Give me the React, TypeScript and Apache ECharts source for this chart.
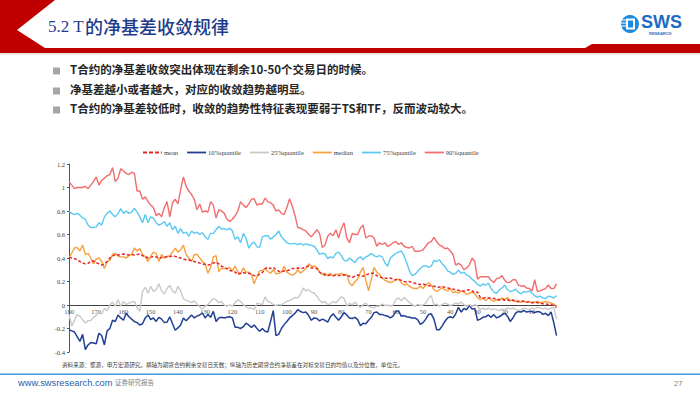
import React, { useEffect, useRef } from "react";
import * as echarts from "echarts";

// Remaining trading days (x categories), 180 down to 1
const days: string[] = [];
for (let d = 180; d >= 1; d--) days.push(String(d));

const seriesNames = ["mean", "10%quantile", "25%quantile", "median", "75%quantile", "90%quantile"];

const p90 = [
  1.05, 1.02, 0.99, 1.0, 1.0, 1.0, 1.01, 0.99, 1.02, 1.05,
  1.09, 1.02, 1.06, 1.08, 1.1, 1.11, 1.17, 1.05, 1.08, 1.16,
  1.14, 1.12, 1.11, 1.13, 1.12, 0.97, 0.97, 0.9, 0.92, 0.88,
  0.85, 0.83, 0.76, 0.78, 0.75, 0.83, 0.88, 0.75, 0.87, 0.9,
  0.86, 0.98, 1.09, 1.01, 0.97, 0.94, 0.9, 0.81, 0.86, 0.79,
  0.8, 0.79, 0.88, 0.85, 0.74, 0.81, 0.8, 0.78, 0.73, 0.71,
  0.73, 0.76, 0.8, 0.88, 0.85, 0.83, 0.86, 0.9, 0.905, 0.85,
  0.86, 0.86, 0.91, 0.88, 0.87, 0.85, 0.8, 0.81, 0.78, 0.77,
  0.83, 0.905, 0.84, 0.76, 0.66, 0.655, 0.64, 0.63, 0.6, 0.58,
  0.61, 0.64, 0.61, 0.49, 0.51, 0.585, 0.61, 0.59, 0.64, 0.57,
  0.65, 0.7, 0.57, 0.53, 0.61, 0.6, 0.6, 0.655, 0.68, 0.57,
  0.585, 0.59, 0.57, 0.5, 0.53, 0.515, 0.53, 0.5, 0.51, 0.53,
  0.54, 0.515, 0.53, 0.5, 0.49, 0.485, 0.5, 0.457, 0.457, 0.46,
  0.47, 0.5, 0.53, 0.54, 0.575, 0.54, 0.51, 0.5, 0.48, 0.485,
  0.46, 0.43, 0.34, 0.355, 0.34, 0.3, 0.315, 0.34, 0.4, 0.37,
  0.22, 0.24, 0.24, 0.24, 0.24, 0.21, 0.19, 0.225, 0.23, 0.25,
  0.21, 0.19, 0.195, 0.215, 0.215, 0.17, 0.16, 0.165, 0.145, 0.14,
  0.12, 0.215, 0.115, 0.12, 0.13, 0.14, 0.17, 0.14, 0.14, 0.18,
];

const p75 = [
  0.8, 0.78, 0.77, 0.78, 0.765, 0.74, 0.73, 0.68, 0.66, 0.66,
  0.665, 0.7, 0.68, 0.75, 0.78, 0.8, 0.77, 0.75, 0.78, 0.82,
  0.78, 0.8, 0.78, 0.79, 0.825, 0.79, 0.75, 0.7, 0.77, 0.7,
  0.75, 0.74, 0.7, 0.68, 0.69, 0.71, 0.67, 0.7, 0.64, 0.67,
  0.61, 0.65, 0.61, 0.62, 0.585, 0.63, 0.61, 0.62, 0.6, 0.615,
  0.58, 0.56, 0.61, 0.61, 0.64, 0.67, 0.645, 0.65, 0.64, 0.655,
  0.63, 0.56, 0.58, 0.53, 0.61, 0.57, 0.485, 0.52, 0.535, 0.495,
  0.49, 0.58, 0.59, 0.59, 0.56, 0.58, 0.6, 0.63, 0.58, 0.555,
  0.53, 0.52, 0.52, 0.525, 0.513, 0.525, 0.51, 0.52, 0.513, 0.51,
  0.5, 0.47, 0.43, 0.44, 0.435, 0.395, 0.41, 0.4, 0.44, 0.45,
  0.42, 0.38, 0.375, 0.4, 0.38, 0.36, 0.395, 0.41, 0.385, 0.41,
  0.42, 0.44, 0.42, 0.41, 0.42, 0.41, 0.36, 0.33, 0.4, 0.42,
  0.44, 0.45, 0.46, 0.42, 0.36, 0.29, 0.25, 0.26, 0.285, 0.31,
  0.33, 0.335, 0.32, 0.33, 0.38, 0.37, 0.385, 0.35, 0.33, 0.29,
  0.28, 0.26, 0.27, 0.295, 0.27, 0.28, 0.255, 0.245, 0.22, 0.2,
  0.175, 0.16, 0.18, 0.17, 0.185, 0.14, 0.11, 0.1, 0.13, 0.145,
  0.17, 0.13, 0.115, 0.12, 0.135, 0.11, 0.095, 0.115, 0.11, 0.12,
  0.1, 0.08, 0.065, 0.075, 0.06, 0.055, 0.075, 0.07, 0.06, 0.08,
];

const median = [
  0.4, 0.44, 0.485, 0.49, 0.46, 0.51, 0.43, 0.44, 0.4, 0.35,
  0.39, 0.4, 0.37, 0.31, 0.37, 0.38, 0.43, 0.44, 0.415, 0.41,
  0.41, 0.4, 0.42, 0.43, 0.485, 0.46, 0.48, 0.43, 0.41, 0.37,
  0.415, 0.45, 0.44, 0.37, 0.43, 0.4, 0.41, 0.42, 0.45, 0.485,
  0.45, 0.47, 0.51, 0.43, 0.4, 0.37, 0.43, 0.43, 0.4, 0.37,
  0.35, 0.27, 0.32, 0.41, 0.42, 0.285, 0.31, 0.31, 0.31, 0.32,
  0.29, 0.33, 0.28, 0.265, 0.315, 0.28, 0.28, 0.26, 0.18, 0.24,
  0.29, 0.295, 0.31, 0.285, 0.27, 0.3, 0.265, 0.27, 0.28, 0.33,
  0.28, 0.265, 0.255, 0.265, 0.3, 0.27, 0.29, 0.31, 0.35, 0.33,
  0.33, 0.32, 0.28, 0.26, 0.27, 0.25, 0.27, 0.245, 0.265, 0.26,
  0.27, 0.25, 0.26, 0.185, 0.165, 0.2, 0.22, 0.28, 0.32, 0.21,
  0.12, 0.22, 0.32, 0.28, 0.26, 0.23, 0.21, 0.2, 0.19, 0.2,
  0.215, 0.22, 0.19, 0.17, 0.18, 0.16, 0.145, 0.14, 0.14, 0.16,
  0.14, 0.17, 0.19, 0.17, 0.13, 0.115, 0.13, 0.145, 0.13, 0.12,
  0.14, 0.105, 0.115, 0.1, 0.12, 0.11, 0.09, 0.1, 0.11, 0.095,
  0.065, 0.045, 0.06, 0.035, 0.06, 0.045, 0.03, 0.045, 0.04, 0.06,
  0.045, 0.065, 0.035, 0.045, 0.03, 0.035, 0.022, 0.035, 0.02, 0.028,
  0.017, 0.025, 0.03, 0.017, 0.025, 0.03, 0.025, 0.017, 0.008, -0.01,
];

const mean = [
  0.405, 0.4, 0.395, 0.385, 0.37, 0.357, 0.35, 0.355, 0.37, 0.375,
  0.36, 0.35, 0.34, 0.35, 0.37, 0.4, 0.415, 0.43, 0.425, 0.43,
  0.434, 0.43, 0.425, 0.43, 0.425, 0.43, 0.434, 0.42, 0.414, 0.4,
  0.405, 0.414, 0.41, 0.395, 0.405, 0.406, 0.414, 0.41, 0.42, 0.414,
  0.405, 0.4, 0.39, 0.386, 0.385, 0.375, 0.37, 0.365, 0.357, 0.35,
  0.345, 0.34, 0.345, 0.357, 0.366, 0.35, 0.33, 0.32, 0.31, 0.293,
  0.29, 0.28, 0.26, 0.27, 0.275, 0.27, 0.27, 0.26, 0.25, 0.248,
  0.262, 0.275, 0.31, 0.322, 0.31, 0.32, 0.3, 0.288, 0.283, 0.29,
  0.29, 0.3, 0.31, 0.31, 0.315, 0.31, 0.315, 0.325, 0.33, 0.315,
  0.315, 0.31, 0.28, 0.265, 0.255, 0.25, 0.255, 0.25, 0.253, 0.25,
  0.252, 0.258, 0.25, 0.245, 0.235, 0.245, 0.255, 0.25, 0.245, 0.255,
  0.265, 0.27, 0.27, 0.25, 0.238, 0.232, 0.23, 0.225, 0.23, 0.22,
  0.215, 0.22, 0.21, 0.2, 0.195, 0.2, 0.19, 0.185, 0.178, 0.175,
  0.18, 0.17, 0.165, 0.16, 0.16, 0.155, 0.152, 0.158, 0.15, 0.145,
  0.14, 0.135, 0.13, 0.125, 0.12, 0.118, 0.125, 0.13, 0.12, 0.105,
  0.11, 0.065, 0.06, 0.062, 0.06, 0.06, 0.055, 0.05, 0.045, 0.05,
  0.04, 0.045, 0.035, 0.04, 0.03, 0.028, 0.035, 0.03, 0.025, 0.03,
  0.02, 0.025, 0.02, 0.015, 0.01, 0.01, 0.005, 0.002, -0.005, -0.02,
];

const p25 = [
  -0.08, -0.18, -0.133, -0.082, -0.096, -0.125, -0.153, -0.133, -0.133, -0.105,
  -0.088, -0.06, -0.077, -0.03, -0.048, 0.0, 0.025, -0.011, 0.045, -0.011,
  0.031, 0.003, 0.017, 0.025, 0.031, -0.02, -0.055, 0.116, 0.15, 0.1,
  0.159, 0.116, 0.13, 0.18, 0.12, 0.094, 0.14, 0.167, 0.12, 0.1,
  0.159, 0.12, 0.054, 0.04, 0.03, 0.02, 0.035, 0.01, -0.015, -0.035,
  -0.01, 0.005, 0.03, 0.055, 0.045, 0.02, 0.03, 0.0, -0.01, 0.0,
  -0.01, 0.02, 0.045, 0.03, 0.003, -0.015, -0.03, -0.025, -0.04, 0.015,
  0.01, 0.003, 0.07, 0.03, 0.02, 0.003, -0.003, 0.003, 0.0, 0.017,
  0.03, 0.04, 0.05, 0.065, 0.06, 0.09, 0.145, 0.12, 0.13, 0.11,
  0.1, 0.075, 0.04, 0.02, 0.03, 0.003, 0.01, 0.03, 0.017, 0.045,
  0.07, 0.055, -0.01, 0.015, 0.0, 0.025, 0.0, -0.02, 0.003, 0.017,
  -0.01, -0.02, -0.025, -0.01, -0.01, 0.008, -0.003, 0.0, -0.01, 0.0,
  0.045, 0.06, 0.035, 0.065, 0.045, 0.02, 0.003, -0.01, 0.005, -0.003,
  0.0, 0.015, 0.06, 0.08, 0.0, 0.008, -0.01, 0.003, 0.017, 0.008,
  -0.003, 0.003, 0.017, 0.008, 0.025, 0.003, -0.011, 0.003, -0.011, 0.003,
  -0.01, -0.04, -0.026, -0.04, -0.026, -0.04, -0.033, -0.04, -0.048, -0.033,
  -0.04, -0.026, -0.033, -0.026, -0.04, -0.048, -0.04, -0.026, -0.033, -0.04,
  -0.026, -0.033, -0.02, -0.026, -0.033, -0.026, -0.04, -0.026, -0.02, -0.12,
];

const p10 = [
  -0.21, -0.22, -0.23, -0.27, -0.31, -0.25, -0.38, -0.34, -0.32, -0.323,
  -0.33, -0.24, -0.26, -0.34, -0.22, -0.2, -0.13, -0.14, -0.085, -0.11,
  -0.13, -0.07, -0.1, -0.12, -0.14, -0.15, -0.17, -0.16, -0.11, -0.085,
  -0.125, -0.11, -0.14, -0.105, -0.12, -0.15, -0.145, -0.1, -0.16, -0.215,
  -0.195, -0.17, -0.11, -0.135, -0.11, -0.085, -0.11, -0.095, -0.085, -0.068,
  -0.11, -0.08, -0.105, -0.054, -0.14, -0.11, -0.105, -0.11, -0.105, -0.1,
  -0.11, -0.19, -0.19, -0.2, -0.185, -0.155, -0.17, -0.19, -0.17, -0.2,
  -0.224, -0.2, -0.224, -0.23, -0.14, -0.048, -0.26, -0.25, -0.2, -0.167,
  -0.14, -0.11, -0.09, -0.07, -0.04, -0.055, -0.065, -0.06, -0.09, -0.13,
  -0.11, -0.115, -0.135, -0.12, -0.13, -0.145, -0.1, -0.075, -0.105, -0.13,
  -0.1, -0.065, -0.085, -0.11, -0.115, -0.105, -0.125, -0.175, -0.155, -0.16,
  -0.13, -0.105, -0.065, -0.06, -0.08, -0.08, -0.09, -0.095, -0.11, -0.095,
  -0.054, -0.05, -0.095, -0.09, -0.1, -0.105, -0.11, -0.11, -0.125, -0.165,
  -0.15, -0.12, -0.08, -0.075, -0.12, -0.21, -0.21, -0.18, -0.14, -0.11,
  -0.1, -0.11, -0.075, -0.02, -0.06, -0.03, -0.04, -0.005, -0.035, -0.03,
  -0.13, -0.12, -0.105, -0.1, -0.085, -0.105, -0.082, -0.11, -0.1, -0.085,
  -0.07, -0.095, -0.14, -0.11, -0.07, -0.055, -0.06, -0.045, -0.06, -0.055,
  -0.055, -0.065, -0.055, -0.06, -0.08, -0.07, -0.09, -0.06, -0.15, -0.26,
];

const bullets = [
  "T合约的净基差收敛突出体现在剩余10-50个交易日的时候。",
  "净基差越小或者越大，对应的收敛趋势越明显。",
  "T合约的净基差较低时，收敛的趋势性特征表现要弱于TS和TF，反而波动较大。",
];

const titleNum = "5.2 T";
const titleCjk = "的净基差收敛规律";
const sourceText = "资料来源：聚源，申万宏源研究。横轴为期货合约剩余交易日天数；纵轴为历史期货合约净基差在对标交易日的均值以及分位数，单位元。";

const colors = {
  mean: "#e5262b",
  p10: "#213f94",
  p25: "#c9c9c9",
  median: "#f8a13e",
  p75: "#5cc9f2",
  p90: "#f16d6e",
};

export default function App() {
  const ref = useRef<HTMLDivElement>(null);
  useEffect(() => {
    if (!ref.current) return;
    const chart = echarts.init(ref.current, null, { renderer: "svg" });
    const serif = '"Liberation Serif", "Times New Roman", serif';
    const cjk = '"Noto Sans CJK SC", "Noto Sans", sans-serif';
    const mk = (name: string, data: number[], color: string, extra: any = {}) => ({
      name,
      type: "line",
      data,
      symbol: "none",
      smooth: false,
      lineStyle: { color, width: 1.4, ...(extra.lineStyle || {}) },
      itemStyle: { color },
      z: extra.z ?? 2,
    });
    const dashIcon = "path://M0,0h4v2h-4z M6,0h4v2h-4z M12,0h4v2h-4z M18,0h1v2h-1z";
    chart.setOption({
      animation: false,
      backgroundColor: "#ffffff",
      grid: { left: 69, right: 143.5, top: 164, bottom: 42, containLabel: false },
      legend: {
        data: seriesNames.map((n) => (n === "mean" ? { name: n, icon: dashIcon } : { name: n, icon: "rect" })),
        left: 138,
        top: 144,
        itemWidth: 19,
        itemHeight: 1.8,
        itemGap: 9,
        symbolKeepAspect: false,
        textStyle: { fontSize: 6.5, fontFamily: serif, color: "#404040", padding: [0, 0, 0, -3] },
      },
      xAxis: {
        type: "category",
        data: days,
        boundaryGap: false,
        offset: -47,
        axisLine: { onZero: false, lineStyle: { color: "#444444", width: 1 } },
        axisTick: { show: false },
        axisLabel: { interval: 9, fontSize: 6.5, fontFamily: serif, color: "#555555", margin: 3 },
        splitLine: { show: false },
      },
      yAxis: {
        type: "value",
        min: -0.4,
        max: 1.2,
        interval: 0.2,
        axisLine: { show: true, onZero: false, lineStyle: { color: "#555555", width: 1 } },
        axisTick: { show: true, length: 2, lineStyle: { color: "#555555" } },
        axisLabel: { fontSize: 6.5, fontFamily: serif, color: "#404040", margin: 4 },
        splitLine: { show: false },
      },
      series: [
        mk("mean", mean, colors.mean, { lineStyle: { type: [3, 2], width: 1.5 }, z: 5 }),
        mk("10%quantile", p10, colors.p10, { lineStyle: { width: 1.5 } }),
        mk("25%quantile", p25, colors.p25),
        mk("median", median, colors.median),
        mk("75%quantile", p75, colors.p75),
        mk("90%quantile", p90, colors.p90),
      ],
      graphic: [
        {
          type: "polygon",
          shape: {
            points: [[0, 0], [55, 0], [17, 30], [45, 48], [585, 48], [592, 44], [700, 44], [700, 53], [0, 53]],
          },
          style: { fill: "#c00000" },
        },
        { type: "rect", shape: { x: 0, y: 53, width: 700, height: 1.5 }, style: { fill: "#e2e2e2" } },
        {
          type: "text",
          left: 48,
          top: 18,
          style: { text: titleNum, font: '17px "Liberation Serif", serif', fill: "#1f3c8c" },
        },
        {
          type: "text",
          left: 85,
          top: 17,
          style: { text: titleCjk, font: `500 18px ${cjk}`, fill: "#1f3c8c" },
        },
        // logo
        { type: "circle", shape: { cx: 630, cy: 24, r: 9 }, style: { fill: "#1c8ade" } },
        { type: "rect", shape: { x: 626, y: 18.5, width: 9, height: 11 }, style: { fill: "#ffffff" } },
        { type: "rect", shape: { x: 628, y: 20.5, width: 5, height: 7 }, style: { fill: "#1c8ade" } },
        { type: "line", shape: { x1: 620, y1: 20, x2: 626, y2: 20 }, style: { stroke: "#ffffff", lineWidth: 1 } },
        { type: "line", shape: { x1: 620, y1: 23, x2: 626, y2: 23 }, style: { stroke: "#ffffff", lineWidth: 1 } },
        { type: "line", shape: { x1: 620, y1: 26, x2: 626, y2: 26 }, style: { stroke: "#ffffff", lineWidth: 1 } },
        {
          type: "text",
          left: 641,
          top: 13,
          style: { text: "SWS", font: 'bold 18px "Liberation Sans", Arial, sans-serif', fill: "#1d6cc4" },
        },
        {
          type: "text",
          left: 649,
          top: 31,
          style: { text: "RESEARCH", font: 'bold 4px "Liberation Sans", Arial, sans-serif', fill: "#1d6cc4" },
        },
        // bullets
        ...bullets.flatMap((t, k) => {
          const cy = [71, 91, 110][k];
          return [
            { type: "rect", shape: { x: 53, y: cy - 3.5, width: 7, height: 7 }, style: { fill: "#a6a6a6" } },
            {
              type: "text",
              left: 70,
              top: cy - 8,
              style: { text: t, font: `bold 11.5px ${cjk}`, fill: "#262626" },
            },
          ];
        }),
        {
          type: "text",
          left: 62,
          top: 362,
          style: { text: sourceText, font: `5.6px ${cjk}`, fill: "#404040" },
        },
        { type: "rect", shape: { x: 0, y: 373.5, width: 700, height: 1.5 }, style: { fill: "#3f9bd7" } },
        {
          type: "text",
          left: 18,
          top: 378,
          style: { text: "www.swsresearch.com", font: '9.3px "Liberation Sans", Arial, sans-serif', fill: "#1f5fa8" },
        },
        {
          type: "text",
          left: 115,
          top: 379,
          style: { text: "证券研究报告", font: `6.5px ${cjk}`, fill: "#7f7f7f" },
        },
        {
          type: "text",
          left: 674,
          top: 379,
          style: { text: "27", font: '7.5px "Liberation Sans", Arial, sans-serif', fill: "#7f7f7f" },
        },
      ],
    });
    return () => chart.dispose();
  }, []);
  return (
    <div
      ref={ref}
      style={{ position: "fixed", left: 0, top: 0, width: 700, height: 394, background: "#ffffff" }}
    />
  );
}
